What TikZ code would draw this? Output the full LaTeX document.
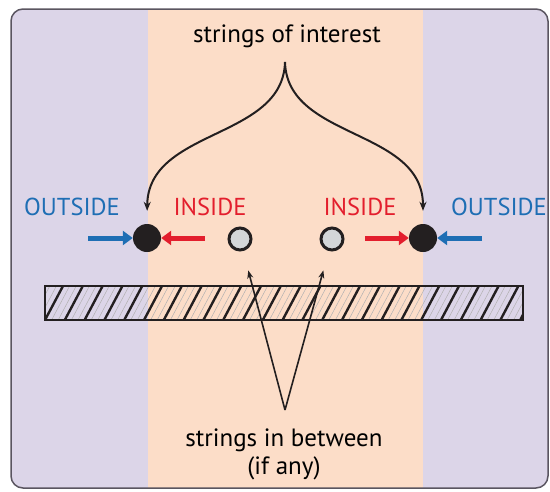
\documentclass[tikz,border=0pt]{standalone}
\usepackage{fontspec}
\setmainfont{PT Sans}
\usetikzlibrary{arrows.meta,calc}
\definecolor{bgpurple}{HTML}{DCD5E8}
\definecolor{bgorange}{HTML}{FCDDC8}
\definecolor{outblue}{HTML}{1E6EB4}
\definecolor{inred}{HTML}{E31E2D}
\definecolor{strgray}{HTML}{D3D6D8}
\definecolor{framegray}{HTML}{5A5560}
\definecolor{ink}{HTML}{231F20}
\tikzset{
  labeltext/.style={font=\fontsize{24.5}{27}\selectfont, anchor=base, inner sep=0pt},
  captext/.style={font=\fontsize{25}{28}\selectfont, anchor=base, inner sep=0pt},
  keydot/.style={circle, fill=ink, minimum size=28pt, inner sep=0pt},
  otherdot/.style={circle, draw=ink, line width=3pt, fill=strgray, minimum size=22pt, inner sep=0pt},
  pusharrow/.style={line width=5pt, -{Triangle[length=10pt,width=14pt]}},
  curlarrow/.style={draw=ink, line width=2pt, -{Stealth[length=9pt,width=7pt]}},
  ptrarrow/.style={draw=ink, line width=1.6pt, -{Stealth[length=8pt,width=6pt]}},
  barbox/.style={draw=ink, line width=2.5pt, minimum width=478pt, minimum height=34pt, inner sep=0pt},
}
\begin{document}
\begin{tikzpicture}[x=1pt,y=-1pt]
\useasboundingbox (0,0) rectangle (550,491);
\begin{scope}
  \clip[rounded corners=12pt] (11,9) rectangle (548,488);
  \fill[bgpurple] (11,9) rectangle (548,488);
  \fill[bgorange] (148,9) rectangle (423,488);
\end{scope}
\draw[framegray, line width=1.5pt, rounded corners=12pt] (11,9) rectangle (548,488);

% hatched bar
\node[barbox, path picture={
  \foreach \i in {-2,...,26} {
    \draw[line width=0.5pt, ink!35] ($(path picture bounding box.south west)+(\i*19.8+6.6,0)$) -- ++(18,-34);
    \draw[line width=0.5pt, ink!35] ($(path picture bounding box.south west)+(\i*19.8+13.2,0)$) -- ++(18,-34);
    \draw[line width=2.4pt, ink] ($(path picture bounding box.south west)+(\i*19.8,0)$) -- ++(18,-34);
  }
}] (bar) at (284,303) {};

% titles
\node[captext] (top) at (287,42) {strings of interest};
\node[captext] (bot1) at (284,446) {strings in between};
\node[captext] (bot2) at (284,474) {(if any)};

% labels
\node[labeltext, text=outblue] (outL) at (72,215) {OUTSIDE};
\node[labeltext, text=inred] (inL) at (210,215) {INSIDE};
\node[labeltext, text=inred] (inR) at (360,215) {INSIDE};
\node[labeltext, text=outblue] (outR) at (499,215) {OUTSIDE};

% strings
\node[keydot] (kL) at (147,238) {};
\node[otherdot] (gL) at (240,239) {};
\node[otherdot] (gR) at (332,239) {};
\node[keydot] (kR) at (423,238) {};

% push arrows
\coordinate (bL) at (88,238);
\coordinate (rL) at (205,238);
\coordinate (rR) at (365,238);
\coordinate (bR) at (482,238);
\draw[pusharrow, outblue] (bL) -- (kL.west);
\draw[pusharrow, inred] (rL) -- (kL.east);
\draw[pusharrow, inred] (rR) -- (kR.west);
\draw[pusharrow, outblue] (bR) -- (kR.east);

% brace arrows
\coordinate (apex) at (285,62);
\draw[curlarrow, shorten >=13pt] (apex) .. controls (283,140) and (148,128) .. (kL.north);
\draw[curlarrow, shorten >=13pt] (apex) .. controls (287,140) and (423,128) .. (kR.north);

% pointer arrows
\coordinate (vee) at (285,410);
\draw[ptrarrow, shorten >=20pt] (vee) -- (gL);
\draw[ptrarrow, shorten >=20pt] (vee) -- (gR);
\end{tikzpicture}
\end{document}
